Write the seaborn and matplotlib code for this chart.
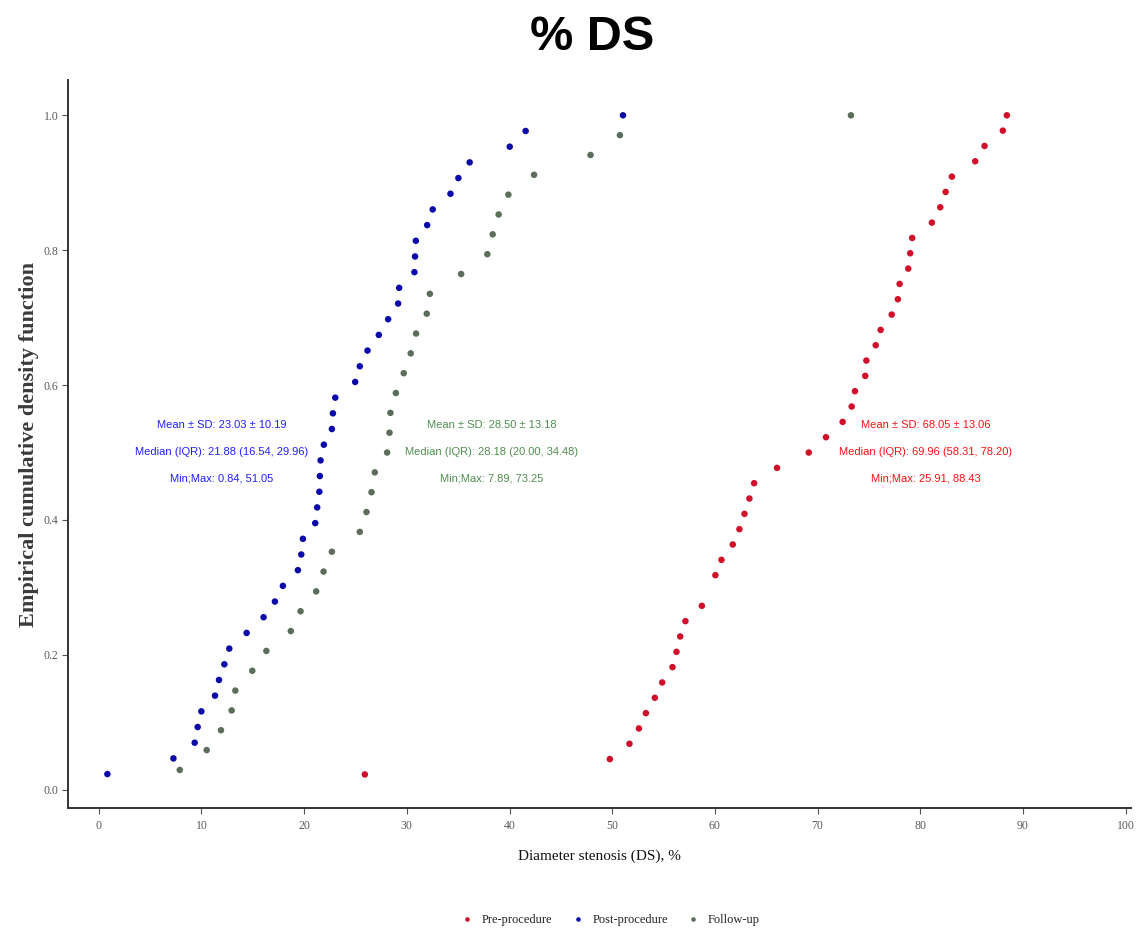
import numpy as np
import pandas as pd
import matplotlib
matplotlib.use("Agg")
import matplotlib.pyplot as plt
import seaborn as sns

# ---------------- data (Diameter stenosis, %) ----------------
groups = ["Pre-procedure", "Post-procedure", "Follow-up"]
colors = ["#d0102a", "#0a0aa8", "#5a6e5a"]

pre_values = [25.91, 49.77, 51.68, 52.60, 53.28, 54.15, 54.87, 55.87, 56.26, 56.62,
              57.13, 58.73, 60.05, 60.05, 60.64, 61.74, 62.39, 62.88, 63.36, 63.82,
              66.05, 69.14, 70.82, 72.44, 73.32, 73.64, 74.64, 74.75, 75.66, 76.14,
              77.22, 77.82, 77.99, 78.83, 79.02, 79.21, 81.13, 81.95, 82.47, 83.08,
              85.35, 86.26, 88.04, 88.43]
post_values = [0.84, 7.27, 9.34, 9.63, 9.99, 11.32, 11.71, 12.23, 12.71, 14.40,
               16.05, 17.15, 17.93, 19.39, 19.72, 19.88, 21.08, 21.27, 21.48, 21.53,
               21.60, 21.92, 22.70, 22.80, 23.03, 24.97, 25.42, 26.17, 27.27, 28.18,
               29.15, 29.25, 30.74, 30.80, 30.88, 31.98, 32.52, 34.25, 35.02, 36.12,
               40.02, 41.57, 51.05]
fu_values = [7.89, 10.51, 11.90, 12.94, 13.30, 14.95, 16.32, 18.70, 19.65, 21.17,
             21.89, 22.70, 25.42, 26.07, 26.56, 26.88, 28.08, 28.31, 28.40, 28.93,
             29.70, 30.38, 30.90, 31.94, 32.24, 35.29, 37.84, 38.36, 38.94, 39.89,
             42.39, 47.89, 50.75, 73.25]

stat_lines = {
    "Pre-procedure": ["Mean ± SD: 68.05 ± 13.06",
                      "Median (IQR): 69.96 (58.31, 78.20)",
                      "Min;Max: 25.91, 88.43"],
    "Post-procedure": ["Mean ± SD: 23.03 ± 10.19",
                       "Median (IQR): 21.88 (16.54, 29.96)",
                       "Min;Max: 0.84, 51.05"],
    "Follow-up": ["Mean ± SD: 28.50 ± 13.18",
                  "Median (IQR): 28.18 (20.00, 34.48)",
                  "Min;Max: 7.89, 73.25"],
}
x_ticks = [0, 10, 20, 30, 40, 50, 60, 70, 80, 90, 100]
y_ticks = [0.0, 0.2, 0.4, 0.6, 0.8, 1.0]

# ---------------- ECDF (points at unique values) ----------------
rows = []
for g, vals in zip(groups, [pre_values, post_values, fu_values]):
    v = np.sort(np.asarray(vals))
    u = np.unique(v)
    F = np.searchsorted(v, u, side="right") / len(v)
    for a, b in zip(u, F):
        rows.append({"group": g, "value": a, "ecdf": b})
df = pd.DataFrame(rows)

# ---------------- plot ----------------
sns.set_theme(style="white")
serif = ["Liberation Serif", "DejaVu Serif"]
narrow = ["Liberation Sans Narrow", "Liberation Sans", "DejaVu Sans"]

fig = plt.figure(figsize=(11.48, 9.33), dpi=100)
ax = fig.add_axes([0.0592, 0.134, 0.9258, 0.780])

sns.scatterplot(data=df, x="value", y="ecdf", hue="group", hue_order=groups,
                palette=dict(zip(groups, colors)), s=22, linewidth=0,
                marker="o", ax=ax, legend=True)

ax.set_xlim(-3.0, 100.5)
ax.set_ylim(-0.027, 1.052)
ax.set_xticks(x_ticks)
ax.set_xticklabels([str(t) for t in x_ticks])
ax.set_yticks(y_ticks)
ax.set_yticklabels([f"{t:.1f}" for t in y_ticks])
for lab in ax.get_xticklabels() + ax.get_yticklabels():
    lab.set_fontfamily(serif)
    lab.set_fontsize(8.5)
    lab.set_color("#5a5a5a")
ax.tick_params(axis="x", which="both", direction="out", length=4, width=0.8,
               color="#555555", bottom=True, pad=5)
ax.tick_params(axis="y", which="both", direction="out", length=4, width=0.8,
               color="#555555", left=True, pad=3)

for side in ["top", "right"]:
    ax.spines[side].set_visible(False)
for side in ["left", "bottom"]:
    ax.spines[side].set_color("#333333")
    ax.spines[side].set_linewidth(1.4)

ax.set_xlabel("Diameter stenosis (DS), %", family=serif, fontsize=11,
              color="#111111", labelpad=12)
ax.set_ylabel("Empirical cumulative density function", family=serif, fontsize=16,
              fontweight="bold", color="#3a3a3a", labelpad=3)

# annotation text
text_pos = {"Post-procedure": 12.0, "Follow-up": 38.3, "Pre-procedure": 80.5}
text_col = {"Pre-procedure": "#ff1010", "Post-procedure": "#2020ff", "Follow-up": "#4f8f4f"}
for g in groups:
    for i, line in enumerate(stat_lines[g]):
        ax.text(text_pos[g], 0.541 - i * 0.040, line, ha="center", va="center",
                color=text_col[g], fontsize=8, family=narrow)

# legend at bottom
handles, labels = ax.get_legend_handles_labels()
ax.legend_.remove()
leg = fig.legend(handles, labels, loc="center", bbox_to_anchor=(0.529, 1 - 920 / 933),
                 ncol=3, frameon=False, handletextpad=0.2, columnspacing=1.0,
                 markerscale=0.7, prop={"family": serif, "size": 9})
for t in leg.get_texts():
    t.set_color("#222222")

fig.text(0.516, 1 - 38 / 933, "% DS", ha="center", va="center", fontsize=35,
         fontweight="bold", family=["Liberation Sans", "DejaVu Sans"], color="black")

fig.savefig("out.png", dpi=100, facecolor="white")
